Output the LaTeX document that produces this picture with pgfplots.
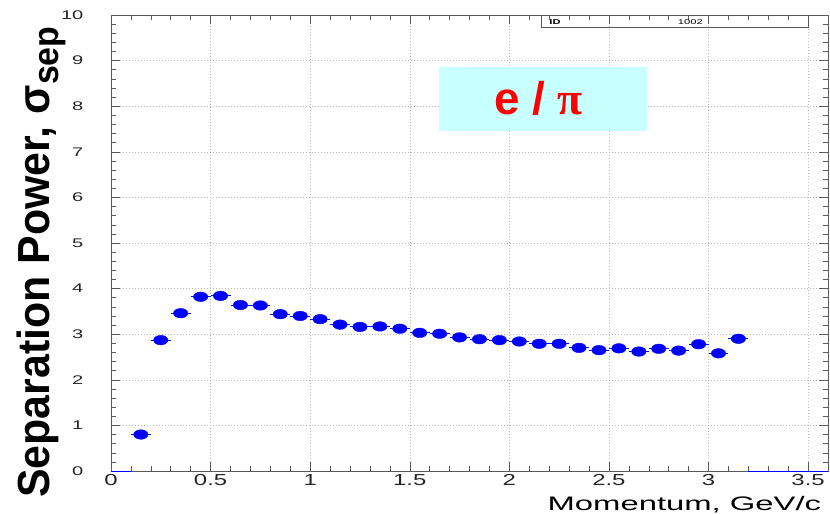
\documentclass[border=0pt]{standalone}
\usepackage{pgfplots}
\pgfplotsset{compat=1.18}
\usepackage{fontspec}
\setmainfont{Liberation Sans}
\newfontfamily\symfont{Liberation Serif}

\definecolor{rootblue}{RGB}{0,0,255}
\definecolor{tagcyan}{RGB}{200,255,255}
\definecolor{gridgray}{RGB}{185,185,185}
\definecolor{framegray}{RGB}{90,90,90}

% separation power e/pi per 0.1 GeV/c momentum bin (bin centres)
\pgfplotstableread{
p     sep
0.15  0.80
0.25  2.87
0.35  3.46
0.45  3.82
0.55  3.84
0.65  3.64
0.75  3.63
0.85  3.44
0.95  3.40
1.05  3.33
1.15  3.21
1.25  3.16
1.35  3.17
1.45  3.12
1.55  3.03
1.65  3.01
1.75  2.93
1.85  2.89
1.95  2.87
2.05  2.84
2.15  2.79
2.25  2.79
2.35  2.70
2.45  2.65
2.55  2.69
2.65  2.62
2.75  2.68
2.85  2.64
2.95  2.78
3.05  2.58
3.15  2.90
}\septable

\begin{document}
\begin{tikzpicture}
\path[use as bounding box] (-111bp,-43bp) rectangle (719bp,471bp);
\begin{axis}[
  at={(0,0)}, anchor=south west,
  scale only axis,
  width=717bp, height=456bp,
  xmin=0, xmax=3.6, ymin=0, ymax=10,
  xtick={0,0.5,1,1.5,2,2.5,3,3.5},
  ytick={0,1,...,10},
  minor x tick num=4, minor y tick num=4,
  tick align=inside,
  major tick length=9bp, minor tick length=5bp,
  every tick/.style={framegray, line width=0.5bp},
  axis line style={framegray, line width=0.7bp},
  grid=major,
  major grid style={gridgray, line width=0.5bp, dash pattern=on 1.5bp off 1.5bp},
  /pgf/number format/assume math mode=true,
  x tick label style={font=\fontsize{16}{16}\selectfont, xscale=1.5, text=black!85},
  y tick label style={font=\fontsize{12.6}{12.6}\selectfont, xscale=1.6, text=black!85},
  yticklabel shift=22bp,
  xlabel={Momentum, GeV/c},
  xlabel style={at={(axis description cs:1,0)}, anchor=base east,
    yshift=-39bp, xshift=-1bp,
    font=\fontsize{19.6}{19.6}\selectfont, xscale=1.68},
  ylabel={\bfseries Separation Power, σ\raisebox{-0.2em}{\fontsize{34}{34}\selectfont sep}},
  ylabel style={at={(axis description cs:-0.0851,-0.066)}, anchor=base west,
    font=\fontsize{43}{43}\selectfont, yscale=1.05},
  clip=false,
]
% empty bins drawn at zero
\addplot[rootblue, line width=1bp] coordinates {(0,0) (0.1,0)};
\addplot[rootblue, line width=1bp] coordinates {(3.2,0) (3.6,0)};

% tag box
\fill[tagcyan] (axis cs:1.647,7.46) rectangle (axis cs:2.692,8.86);
\node[anchor=base, text=red, font=\fontsize{46}{46}\selectfont\bfseries]
  at (axis cs:2.147,7.81) {e / {\symfont π}};

% histogram id box
\draw[framegray, line width=0.6bp] (axis cs:2.16,9.72) rectangle (axis cs:3.5,10);
\node[anchor=west, font=\fontsize{7}{7}\selectfont\bfseries, xscale=1.6, inner sep=0pt]
  at (axis cs:2.2,9.855) {ID};
\node[anchor=east, font=\fontsize{7}{7}\selectfont, xscale=1.6, inner sep=0pt]
  at (axis cs:2.973,9.855) {1002};

\addplot[rootblue, only marks, mark=*, mark size=4.8bp,
  mark options={xscale=1.5, fill=rootblue, draw=rootblue},
  error bars/.cd, x dir=both, x fixed=0.05,
  error mark=none, error bar style={rootblue, line width=0.9bp}]
  table[x=p, y=sep] {\septable};
\end{axis}
\end{tikzpicture}
\end{document}
